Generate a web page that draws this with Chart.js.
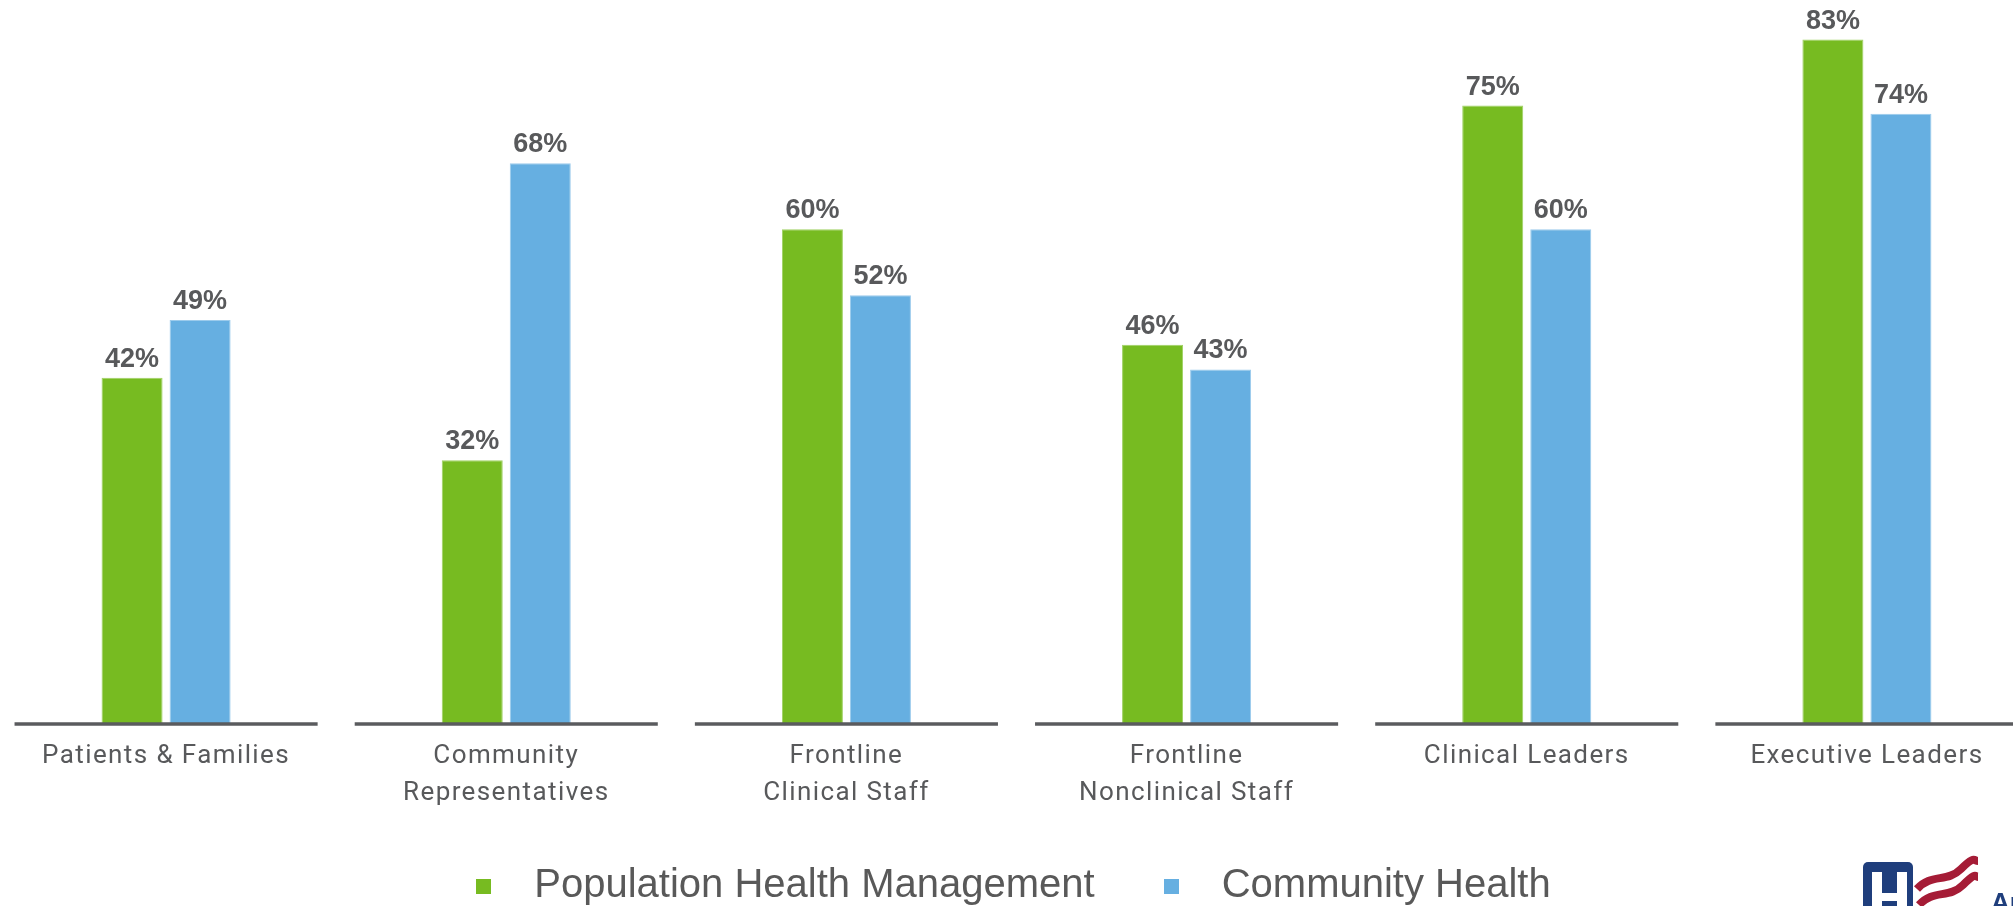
<!DOCTYPE html>
<html>
<head>
<meta charset="utf-8">
<script src="https://cdn.jsdelivr.net/npm/chart.js@4"></script>
<style>
  html, body { margin: 0; padding: 0; background: #fff; overflow: hidden; width: 2013px; height: 906px; }
  #wrap { position: absolute; left: -33px; top: 0; width: 2070px; height: 916px; }
  #logo { position: absolute; left: 1855px; top: 855px; }
</style>
</head>
<body>
<div id="wrap"><canvas id="chart"></canvas></div>
<svg id="logo" width="158" height="51" viewBox="0 0 158 51">
  <rect x="8" y="7" width="50" height="60" rx="5" fill="#1f3e7c"/>
  <rect x="17" y="17" width="10" height="40" fill="#fff"/>
  <rect x="42" y="17" width="10" height="40" fill="#fff"/>
  <rect x="17" y="38" width="35" height="8" fill="#fff"/>
  <path d="M62,34 C76,18 92,28 106,14 S119,6 123,6" stroke="#a51c36" stroke-width="8" fill="none"/>
  <path d="M64,50 C78,34 94,44 108,30 S120,22 123,22" stroke="#a51c36" stroke-width="8" fill="none"/>
  <text x="136" y="56" font-family="Liberation Sans, Arial" font-weight="bold" font-size="26" fill="#1f3e7c">American Hospital Association</text>
</svg>
<script>
// categories and values (percent)
const categories = [
  ["Patients & Families"],
  ["Community", "Representatives"],
  ["Frontline", "Clinical Staff"],
  ["Frontline", "Nonclinical Staff"],
  ["Clinical Leaders"],
  ["Executive Leaders"],
];
const seriesNames = ["Population Health Management", "Community Health"];
const populationHealth = [42, 32, 60, 46, 75, 83];
const communityHealth = [49, 68, 52, 43, 60, 74];

const GREEN = "#77bb21";
const BLUE = "#66afe1";
const GREY = "#58595b";

// small square used as legend marker
function makeSquare(color) {
  const c = document.createElement("canvas");
  c.width = 15;
  c.height = 15;
  const g = c.getContext("2d");
  g.fillStyle = color;
  g.fillRect(0, 0, 15, 15);
  return c;
}
const legendSquares = [makeSquare(GREEN), makeSquare(BLUE)];

// value labels above each bar
const valueLabels = {
  id: "valueLabels",
  afterDatasetsDraw(chart) {
    const ctx = chart.ctx;
    ctx.save();
    ctx.font = "bold 27px 'Liberation Sans', Arial, sans-serif";
    ctx.fillStyle = GREY;
    ctx.textAlign = "center";
    ctx.textBaseline = "alphabetic";
    chart.data.datasets.forEach((ds, i) => {
      chart.getDatasetMeta(i).data.forEach((bar, j) => {
        ctx.fillText(ds.data[j] + "%", bar.x, bar.y - 11);
      });
    });
    ctx.restore();
  },
};

// one baseline segment under each category
const baseSegments = {
  id: "baseSegments",
  afterDatasetsDraw(chart) {
    const ctx = chart.ctx;
    const x = chart.scales.x;
    const y0 = chart.scales.y.getPixelForValue(0);
    const half = (x.width / categories.length) * 0.4455;
    ctx.save();
    ctx.strokeStyle = "#5a5b5e";
    ctx.lineWidth = 3.5;
    categories.forEach((c, i) => {
      const cx = x.getPixelForValue(i);
      ctx.beginPath();
      ctx.moveTo(cx - half, y0);
      ctx.lineTo(cx + half, y0);
      ctx.stroke();
    });
    ctx.restore();
  },
};

// x tick labels (drawn in a later layer) get a little tracking
const tickSpacing = {
  id: "tickSpacing",
  afterDatasetsDraw(chart) {
    chart.ctx.letterSpacing = "1.4px";
  },
  afterDraw(chart) {
    chart.ctx.letterSpacing = "0px";
  },
};

new Chart(document.getElementById("chart"), {
  type: "bar",
  data: {
    labels: categories,
    datasets: [
      {
        label: seriesNames[0],
        data: populationHealth,
        backgroundColor: GREEN,
        borderColor: "#9fd163",
        borderWidth: 1,
        barPercentage: 0.897,
        categoryPercentage: 0.4,
      },
      {
        label: seriesNames[1],
        data: communityHealth,
        backgroundColor: BLUE,
        borderColor: "#9ccbec",
        borderWidth: 1,
        barPercentage: 0.897,
        categoryPercentage: 0.4,
      },
    ],
  },
  options: {
    responsive: true,
    maintainAspectRatio: false,
    animation: false,
    layout: { padding: 0 },
    scales: {
      x: {
        grid: { display: false, drawTicks: false },
        border: { display: false },
        ticks: {
          z: 1,
          color: GREY,
          font: { family: "Roboto", size: 26, lineHeight: 1.42 },
          padding: 14,
          maxRotation: 0,
          autoSkip: false,
        },
        afterFit: (s) => { s.height = 96; },
      },
      y: {
        position: "left",
        min: 0,
        max: 87.8,
        grid: { display: false, drawTicks: false },
        border: { display: false },
        ticks: { display: false },
        afterFit: (s) => { s.width = 29; },
      },
    },
    plugins: {
      tooltip: { enabled: false },
      legend: {
        position: "bottom",
        labels: {
          usePointStyle: true,
          pointStyleWidth: 61,
          padding: 46,
          color: "#595959",
          font: { family: "'Liberation Sans', Arial", size: 40 },
          generateLabels(chart) {
            const items = Chart.defaults.plugins.legend.labels.generateLabels(chart);
            items.forEach((it, i) => { it.pointStyle = legendSquares[i]; });
            return items;
          },
        },
      },
    },
  },
  plugins: [valueLabels, baseSegments, tickSpacing],
});
</script>
</body>
</html>
